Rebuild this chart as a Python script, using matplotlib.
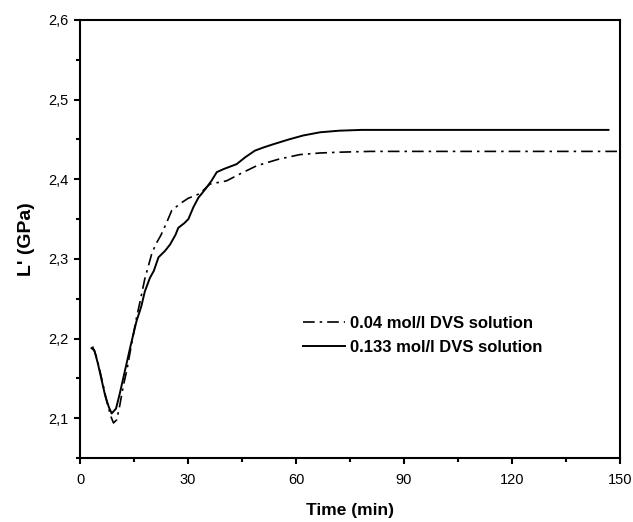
import matplotlib
matplotlib.use("Agg")
import matplotlib.pyplot as plt
from matplotlib.ticker import MultipleLocator, FuncFormatter

plt.rcParams['font.family'] = ['Liberation Sans', 'DejaVu Sans']

# 0.133 mol/l DVS solution (solid)
t_133 = [3.2, 4, 5, 6, 7, 8, 8.8, 10, 11, 12, 13, 14, 15.7, 17, 18, 19.4,
         20.5, 21.8, 23.6, 25, 26.5, 27.3, 29, 30.1, 31.5, 32.9, 34, 35.2,
         36.5, 38, 40, 43.5, 46, 48.6, 51, 53.7, 58, 62, 66.7, 72, 78.2,
         90, 110, 130, 146.8]
L_133 = [2.188, 2.185, 2.168, 2.148, 2.128, 2.114, 2.106, 2.112, 2.13, 2.15,
         2.17, 2.19, 2.222, 2.24, 2.259, 2.276, 2.285, 2.302, 2.31, 2.318,
         2.33, 2.339, 2.345, 2.35, 2.365, 2.377, 2.383, 2.39, 2.398, 2.409,
         2.413, 2.419, 2.428, 2.436, 2.44, 2.444, 2.45, 2.455, 2.459, 2.461,
         2.462, 2.462, 2.462, 2.462, 2.462]

# 0.04 mol/l DVS solution (dash-dot)
t_04 = [3.5, 4.5, 5.5, 6.5, 7.5, 8.5, 9.3, 10.2, 11, 12, 13, 14, 15.5, 16.7,
        18, 19.9, 21, 22.5, 24, 25.5, 28, 30, 33.3, 36.1, 40.7, 45, 49.1,
        55, 61.1, 66.7, 72, 80.6, 100, 125, 150]
L_04 = [2.19, 2.178, 2.16, 2.14, 2.12, 2.103, 2.094, 2.098, 2.115, 2.14,
        2.16, 2.185, 2.222, 2.247, 2.275, 2.306, 2.318, 2.33, 2.345, 2.361,
        2.37, 2.376, 2.382, 2.394, 2.398, 2.408, 2.417, 2.425, 2.431, 2.433,
        2.434, 2.435, 2.435, 2.435, 2.435]

fig = plt.figure(figsize=(6.33, 5.22), dpi=100)
ax = fig.add_axes([0.1264, 0.1226, 0.8531, 0.8391])

ax.plot(t_04, L_04, color='black', lw=1.2, linestyle=(0, (7, 3, 1.5, 3)),
        label='0.04 mol/l DVS solution')
ax.plot(t_133, L_133, color='black', lw=1.4, label='0.133 mol/l DVS solution')

ax.set_xlim(0, 150)
ax.set_ylim(2.05, 2.6)
ax.xaxis.set_major_locator(MultipleLocator(30))
ax.xaxis.set_minor_locator(MultipleLocator(15))
ax.yaxis.set_major_locator(MultipleLocator(0.1))
ax.yaxis.set_minor_locator(MultipleLocator(0.05))
ax.yaxis.set_major_formatter(FuncFormatter(lambda v, p: f"{v:.1f}".replace('.', ',')))

for s in ax.spines.values():
    s.set_linewidth(1.5)
ax.tick_params(which='major', direction='out', length=4.5, width=1.5, labelsize=10.5)
ax.tick_params(which='minor', direction='out', length=3, width=1.5)
ax.tick_params(axis='x', which='major', pad=6)

ax.set_xlabel('Time (min)', fontsize=12.5, fontweight='bold', labelpad=12)
ax.set_ylabel("L' (GPa)", fontsize=14, fontweight='bold', labelpad=10)

ax.legend(loc='upper left', bbox_to_anchor=(0.413, 0.325), frameon=False,
          borderpad=0, borderaxespad=0,
          prop={'weight': 'bold', 'size': 12}, handlelength=2.5,
          handletextpad=0.3, labelspacing=0.55)

fig.savefig('out.png', dpi=100)
